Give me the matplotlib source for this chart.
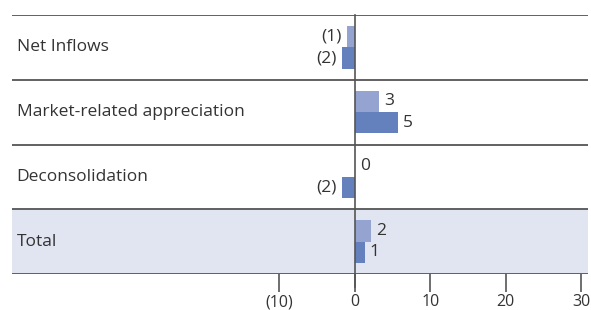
import matplotlib.pyplot as plt

# Данные
categories = ['Net Inflows', 'Market-related appreciation', 'Deconsolidation', 'Total']
prev_vals = [-1.0, 3.2, 0.0, 2.1]
curr_vals = [-1.7, 5.7, -1.7, 1.3]
prev_labels = ['(1)', '3', '0', '2']
curr_labels = ['(2)', '5', '(2)', '1']
xticks = [-10, 0, 10, 20, 30]
xtick_labels = ['(10)', '0', '10', '20', '30']

light = '#95a3d0'
dark = '#6481bd'
band = '#e1e5f1'
line_col = '#555555'
text_col = '#333333'

plt.rcParams['font.family'] = ['Open Sans', 'DejaVu Sans']

fig = plt.figure(figsize=(5.91, 3.10), dpi=100)
ax = fig.add_axes([12/591, 36/310, 576/591, 259/310])

n = len(categories)
ax.set_ylim(n, 0)
ax.set_xlim(-45.4, 30.9)

# Фон строки "Total"
ax.axhspan(n - 1, n, color=band, zorder=0)

# Разделители строк
for i in range(n + 1):
	ax.axhline(i, color=line_col, lw=1.3, zorder=1)

bh = 0.33
for i in range(n):
	y1 = i + 0.5 - bh
	y2 = i + 0.5
	ax.barh(y1, prev_vals[i], height=bh, align='edge', color=light, zorder=2)
	ax.barh(y2, curr_vals[i], height=bh, align='edge', color=dark, zorder=2)
	# подписи значений
	for v, y, s in ((prev_vals[i], y1 + bh/2, prev_labels[i]), (curr_vals[i], y2 + bh/2, curr_labels[i])):
		if v < 0:
			ax.text(v - 0.7, y, s, ha='right', va='center', fontsize=12.5, color=text_col)
		else:
			ax.text(v + 0.7, y, s, ha='left', va='center', fontsize=12.5, color=text_col)
	ax.text(0.008, i + 0.5, categories[i], transform=ax.get_yaxis_transform(), ha='left', va='center', fontsize=12.5, color=text_col)

# Нулевая линия
ax.plot([0, 0], [0, n + 0.2], color=line_col, lw=1.2, zorder=3, clip_on=False)

for s in ax.spines.values():
	s.set_visible(False)
ax.set_yticks([])
ax.set_xticks(xticks)
ax.set_xticklabels(xtick_labels, fontsize=11.5, color=text_col)
ax.tick_params(axis='x', length=13, width=1.2, color=line_col, pad=1.5)

fig.savefig('out.png', dpi=100)
